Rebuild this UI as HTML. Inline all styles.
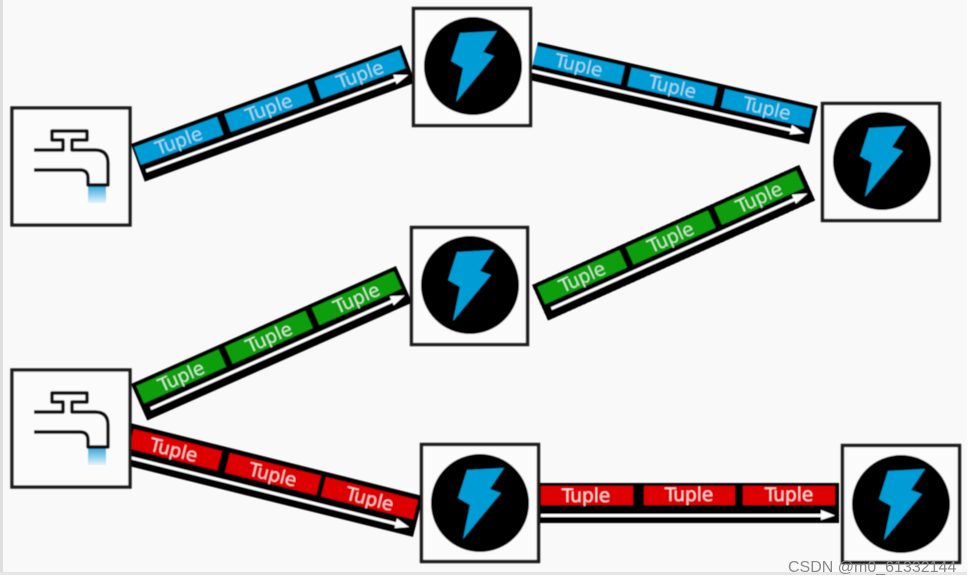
<!DOCTYPE html>
<html><head><meta charset="utf-8">
<style>
html,body{margin:0;padding:0;background:#fff;width:979px;height:584px;overflow:hidden}
svg{display:block}
.t{font-family:"DejaVu Sans","Liberation Sans",sans-serif;font-size:18.5px;fill:#fff;fill-opacity:.8;text-anchor:middle}
.b .t{fill:#cfeaf6}
.w{font-family:"Liberation Sans",sans-serif;font-size:16px;fill:#8a8a8a}
</style></head><body>
<svg width="979" height="584" viewBox="0 0 979 584" xmlns="http://www.w3.org/2000/svg">
<defs>
<filter id="bl" x="-5%" y="-5%" width="110%" height="110%"><feGaussianBlur stdDeviation="0.6"/></filter>
<linearGradient id="wg" x1="0" y1="0" x2="0" y2="1"><stop offset="0" stop-color="#35a9dc"/><stop offset="1" stop-color="#e4f3fa"/></linearGradient>
<g id="bolt">
<circle cx="0" cy="0" r="49" fill="#000"/>
<path d="M-13,-33 L24,-35 L10,-14 L21,-10 L-17,36 L-10,2 L-22,-5 Z" fill="#049cd6"/>
</g>
<g id="faucet">
<rect x="1" y="1" width="118" height="117" fill="#fbfbfb" stroke="#1c1c1c" stroke-width="3.4"/>
<rect x="77" y="79" width="18" height="17" fill="url(#wg)"/>
<path d="M23,43 H52 V33 H41 V24 H76 V33 H61 V43 H84 Q97,43 97,56 V78 H77 V71 Q77,63 69,63 H23" fill="none" stroke="#111" stroke-width="3.4" stroke-linejoin="round"/>
</g>
</defs>
<rect width="979" height="584" fill="#fff"/>
<rect x="0" y="0" width="967" height="572" fill="#f9f9f9"/>
<rect x="0" y="0" width="3" height="572" fill="#dedede"/>
<rect x="0" y="572" width="967" height="3" fill="#e6e6e6"/>
<g filter="url(#bl)">

<!-- Stream 1 blue -->
<g class="b" transform="translate(131,144) rotate(-20.1)">
<rect x="0" y="0" width="288" height="40" fill="#000"/>
<rect x="2" y="4" width="88" height="19" fill="#049cd6"/><rect x="98" y="4" width="88" height="19" fill="#049cd6"/><rect x="194" y="4" width="90" height="19" fill="#049cd6"/>
<text class="t" x="46" y="20">Tuple</text><text class="t" x="142" y="20">Tuple</text><text class="t" x="239" y="20">Tuple</text>
<rect x="5" y="29" width="270" height="3" fill="#fff"/><path d="M270,25 L284,30.5 L270,35 Z" fill="#fff"/>
</g>

<!-- Stream 2 blue -->
<g class="b" transform="translate(538,42) rotate(12.9)">
<rect x="0" y="0" width="287" height="39" fill="#000"/>
<rect x="0" y="4" width="90" height="19" fill="#049cd6"/><rect x="97" y="4" width="88" height="19" fill="#049cd6"/><rect x="193" y="4" width="90" height="19" fill="#049cd6"/>
<text class="t" x="45" y="20">Tuple</text><text class="t" x="141" y="20">Tuple</text><text class="t" x="238" y="20">Tuple</text>
<rect x="-4" y="28" width="272" height="3" fill="#fff"/><path d="M266,24 L280,29.5 L266,34 Z" fill="#fff"/>
</g>

<!-- Stream 3 green -->
<g transform="translate(532,285) rotate(-24.2)">
<rect x="0" y="0" width="293" height="39" fill="#000"/>
<rect x="4" y="4" width="90" height="19" fill="#079d07"/><rect x="101" y="4" width="90" height="19" fill="#079d07"/><rect x="198" y="4" width="90" height="19" fill="#079d07"/>
<text class="t" x="49" y="20">Tuple</text><text class="t" x="146" y="20">Tuple</text><text class="t" x="243" y="20">Tuple</text>
<rect x="8" y="28" width="272" height="3" fill="#fff"/><path d="M274,24 L289,29.5 L274,34 Z" fill="#fff"/>
</g>

<!-- Stream 4 green -->
<g transform="translate(131,384) rotate(-24)">
<rect x="0" y="0" width="290" height="40" fill="#000"/>
<rect x="4" y="4" width="90" height="19" fill="#079d07"/><rect x="101" y="4" width="88" height="19" fill="#079d07"/><rect x="196" y="4" width="90" height="19" fill="#079d07"/>
<text class="t" x="49" y="20">Tuple</text><text class="t" x="145" y="20">Tuple</text><text class="t" x="241" y="20">Tuple</text>
<rect x="8" y="29" width="270" height="3" fill="#fff"/><path d="M272,25 L286,30.5 L272,35 Z" fill="#fff"/>
</g>

<!-- Stream 5 red -->
<g transform="translate(134,424) rotate(14)">
<rect x="-4" y="0" width="302" height="42" fill="#000"/>
<rect x="1" y="5" width="91" height="20" fill="#de0606"/><rect x="100" y="5" width="94" height="20" fill="#de0606"/><rect x="199" y="5" width="95" height="20" fill="#de0606"/>
<text class="t" x="45" y="22">Tuple</text><text class="t" x="147" y="22">Tuple</text><text class="t" x="247" y="22">Tuple</text>
<rect x="-4" y="32" width="285" height="3" fill="#fff"/><path d="M278,28 L292,33.5 L278,38 Z" fill="#fff"/>
</g>

<!-- Stream 6 red -->
<rect x="539" y="483" width="300" height="40" fill="#000"/>
<rect x="541" y="486" width="92" height="19" fill="#de0606"/><rect x="644" y="486" width="91" height="19" fill="#de0606"/><rect x="743" y="486" width="92" height="19" fill="#de0606"/>
<text class="t" x="586" y="502" style="fill-opacity:.85">Tuple</text><text class="t" x="689" y="501" style="fill-opacity:.85">Tuple</text><text class="t" x="789" y="501" style="fill-opacity:.85">Tuple</text>
<rect x="541" y="514" width="283" height="3" fill="#fff"/><path d="M821,510 L835,515.5 L821,520 Z" fill="#fff"/>

<!-- Faucets -->
<use href="#faucet" transform="translate(11,107)"/>
<use href="#faucet" transform="translate(11,369)"/>

<!-- Bolts -->
<g fill="#fbfbfb" stroke="#1c1c1c" stroke-width="3.4">
<rect x="413.5" y="8.5" width="117" height="117"/>
<rect x="822.5" y="103.5" width="117" height="117"/>
<rect x="411.5" y="227.5" width="116" height="117"/>
<rect x="421.5" y="444.5" width="117" height="117"/>
<rect x="842.5" y="445.5" width="117" height="117"/>
</g>
<use href="#bolt" transform="translate(473,66)"/>
<use href="#bolt" transform="translate(882,161)"/>
<use href="#bolt" transform="translate(470,285)"/>
<use href="#bolt" transform="translate(480,503)"/>
<use href="#bolt" transform="translate(901,504)"/>
</g>

<text class="w" x="788" y="572">CSDN @m0_61332144</text>
</svg>
</body></html>
